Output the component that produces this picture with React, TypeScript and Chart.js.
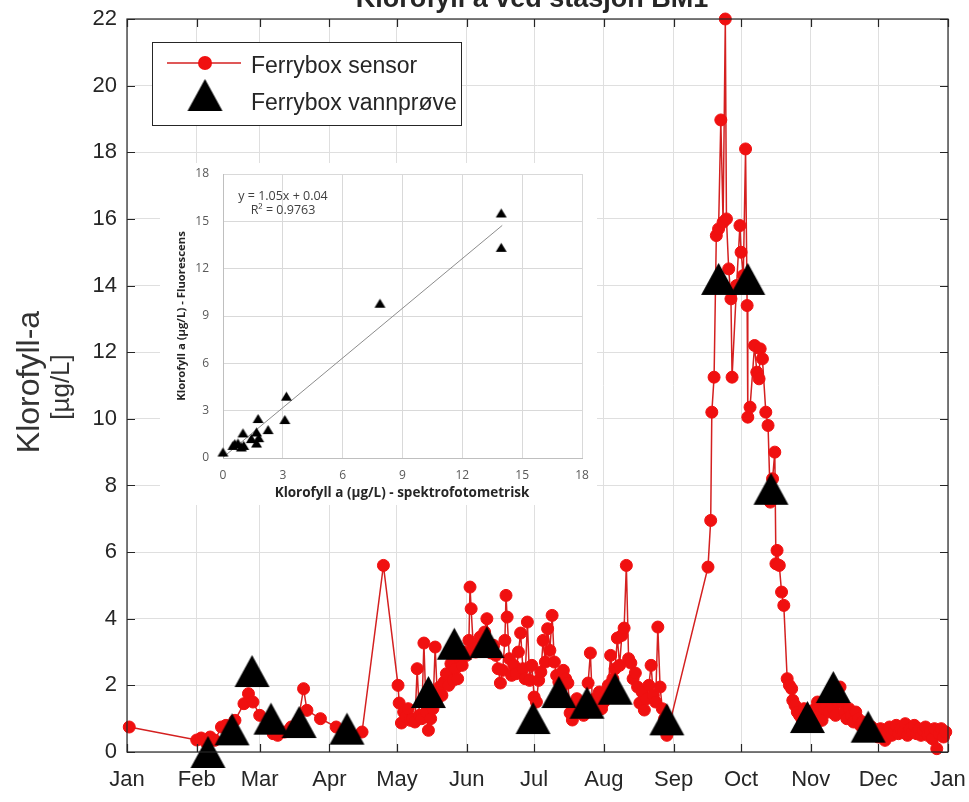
import React, { useEffect, useRef } from 'react';
import { Chart, registerables } from 'chart.js';

Chart.register(...registerables);

// ---------- data ----------
const monthStarts = [0, 31, 59, 90, 120, 151, 181, 212, 243, 273, 304, 334, 365];
const monthLabels = ['Jan', 'Feb', 'Mar', 'Apr', 'May', 'Jun', 'Jul', 'Aug', 'Sep', 'Oct', 'Nov', 'Dec', 'Jan'];
const yTickValues = [0, 2, 4, 6, 8, 10, 12, 14, 16, 18, 20, 22];

// Ferrybox sensor: [day of year, chlorophyll µg/L]
const sensorReadings: [number, number][] = [
  [1, 0.75], [31, 0.36], [33, 0.42], [35, 0.3], [37, 0.45], [39, 0.35], [42, 0.75], [44, 0.8], [48, 0.95],
  [52, 1.45], [54, 1.75], [56, 1.5], [59, 1.1], [62, 0.8], [65, 0.55], [67, 0.5], [70, 0.6], [73, 0.75],
  [76, 0.9], [78.5, 1.9], [80, 1.25], [86, 1.0], [93, 0.75], [98, 0.65], [104.5, 0.6], [114, 5.6],
  [120.5, 2.0], [121, 1.47], [122, 0.87], [123, 1.2], [124, 1.05], [125, 1.3], [126, 0.95], [127, 1.0],
  [128, 0.9], [129, 2.5], [130, 1.1], [131, 1.0], [132, 3.27], [133, 1.2], [134, 0.65], [135, 1.0],
  [136, 1.3], [137, 3.15], [138, 1.6], [139, 1.95], [140, 1.7], [141, 2.1], [142, 2.35], [143, 2.0],
  [144, 2.65], [145, 2.15], [146, 2.5], [147, 2.2], [148, 2.8], [149, 2.6], [150, 3.0], [151, 2.9],
  [152, 3.35], [152.5, 4.95], [153, 4.3], [154, 3.1], [155, 3.0], [156, 3.2], [157, 3.45], [158, 3.1],
  [159, 3.6], [160, 4.0], [161, 3.0], [162, 2.97], [163, 3.2], [164, 2.9], [165, 2.5], [166, 2.07],
  [167, 2.45], [168, 3.35], [168.5, 4.7], [169, 4.05], [170, 2.8], [171, 2.3], [172, 2.6], [173, 2.35],
  [174, 3.0], [175, 3.57], [176, 2.5], [177, 2.2], [178, 3.9], [179, 2.15], [180, 2.6], [181, 1.65],
  [182, 1.5], [183, 2.15], [184, 2.4], [185, 3.35], [186, 2.7], [187, 3.7], [188, 3.05], [189, 4.1],
  [190, 2.7], [191, 2.3], [192, 2.1], [193, 1.9], [194, 2.45], [195, 2.2], [196, 2.07], [197, 1.17],
  [198, 0.96], [199, 1.3], [200, 1.6], [201, 1.2], [202, 1.4], [203, 1.1], [204, 1.25], [205, 2.07],
  [206, 2.97], [207, 1.35], [208, 1.6], [209, 1.35], [210, 1.8], [211, 1.3], [212, 1.5], [213, 1.7],
  [214, 2.0], [215, 2.9], [216, 2.2], [217, 2.5], [218, 3.42], [219, 2.6], [220, 3.5], [221, 3.72],
  [222, 5.6], [223, 2.8], [224, 2.67], [225, 2.2], [226, 2.37], [227, 1.95], [228, 1.47], [229, 1.8],
  [230, 1.26], [231, 1.6], [232, 2.0], [233, 2.6], [234, 1.7], [235, 1.5], [236, 3.75], [237, 1.95],
  [238, 1.3], [239, 1.0], [240, 0.5],
  [258.3, 5.55], [259.5, 6.95], [260, 10.2], [261, 11.25], [262, 15.5], [263, 15.7], [264, 18.97],
  [265, 15.9], [266, 22.0], [266.5, 16.0], [267.5, 14.5], [268.5, 13.6], [269, 11.25], [271, 14.0],
  [272.5, 15.8], [273, 15.0], [274, 14.3], [275, 18.1], [275.7, 13.4], [276, 10.05], [277, 10.35],
  [279, 12.2], [280, 11.4], [281, 11.2], [281.5, 12.1], [282.5, 11.8], [284, 10.2], [285, 9.8],
  [286, 7.5], [287, 8.2], [288, 9.0], [288.5, 5.65], [289, 6.05], [290, 5.6], [291, 4.8], [292, 4.4],
  [293.5, 2.2], [294.5, 2.0], [295.5, 1.9], [296, 1.55], [297, 1.4], [298, 1.2], [299, 1.1],
  [300, 1.0], [301, 1.3], [302, 0.9], [303, 1.2], [304, 1.1], [305, 0.85], [306, 1.3], [307, 1.5],
  [308, 1.1], [309, 0.95], [310, 1.3], [311, 1.4], [312, 1.2], [313, 1.55], [314, 1.3], [315, 1.1],
  [316, 1.5], [317, 1.95], [318, 1.5], [319, 1.2], [320, 1.0], [321, 1.3], [322, 1.1], [323, 0.9],
  [324, 1.2], [325, 1.0], [326, 0.8], [327, 0.9], [328, 0.7], [329, 0.8], [330, 0.6], [331, 0.75],
  [332, 0.5], [333, 0.6], [334, 0.45], [335, 0.7], [336, 0.55], [337, 0.35], [338, 0.6], [339, 0.75],
  [340, 0.5], [341, 0.65], [342, 0.8], [343, 0.55], [344, 0.7], [345, 0.6], [346, 0.85], [347, 0.5],
  [348, 0.7], [349, 0.6], [350, 0.8], [351, 0.55], [352, 0.7], [353, 0.5], [354, 0.65], [355, 0.75],
  [356, 0.5], [357, 0.6], [358, 0.4], [359, 0.7], [360, 0.1], [361, 0.55], [362, 0.7], [363, 0.45],
  [364, 0.6],
];

// Ferrybox water samples
const sampleDays = [36, 46.7, 55.6, 64, 76.5, 97.8, 134, 145.5, 160, 180.5, 192, 204.5, 217, 240, 263, 276, 286.3, 302.5, 314, 329.5];
const sampleChl = [0.0, 0.68, 2.43, 1.0, 0.9, 0.7, 1.8, 3.25, 3.3, 1.02, 1.8, 1.48, 1.9, 0.98, 14.2, 14.2, 7.9, 1.05, 1.95, 0.76];

// Inset: spectrophotometric vs fluorescence
const insetSpektro = [0, 0.5, 0.59, 0.75, 0.92, 1.04, 1.0, 1.42, 1.68, 1.68, 1.79, 1.76, 2.26, 3.1, 3.18, 7.87, 13.95, 13.95];
const insetFluor = [0.38, 0.8, 0.91, 0.95, 0.7, 0.8, 1.59, 1.23, 1.65, 0.95, 1.29, 2.5, 1.8, 2.44, 3.92, 9.81, 15.53, 13.35];
const trendX = [0, 14];
const trendY = [0.04, 14.74];
const insetTicks = [0, 3, 6, 9, 12, 15, 18];

// ---------- helpers ----------
function makeTriangle(w: number, h: number, color: string) {
  const c = document.createElement('canvas');
  c.width = w + 2;
  c.height = h + 2;
  const ctx = c.getContext('2d')!;
  ctx.fillStyle = color;
  ctx.beginPath();
  ctx.moveTo(c.width / 2, 1);
  ctx.lineTo(w + 1, h + 1);
  ctx.lineTo(1, h + 1);
  ctx.closePath();
  ctx.fill();
  return c;
}

function zeroPadding(s: any) {
  s.paddingTop = 0;
  s.paddingBottom = 0;
  s.paddingLeft = 0;
  s.paddingRight = 0;
}

const SANS = '"Liberation Sans", Arial, Helvetica, sans-serif';
const INSET_FONT = '"Open Sans", "Liberation Sans", sans-serif';
const RED = '#f01010';
const LINE_RED = '#d42020';

export default function App() {
  const mainRef = useRef<HTMLCanvasElement>(null);
  const insetRef = useRef<HTMLCanvasElement>(null);

  useEffect(() => {
    const tri = makeTriangle(35, 32, '#000');
    const triSmall = makeTriangle(11, 9, '#000');

    const mainOverlay = {
      id: 'mainOverlay',
      afterDraw(chart: any) {
        const { ctx, chartArea } = chart;
        const { left, right, top, bottom } = chartArea;
        const xs = chart.scales.x;
        const ys = chart.scales.y;
        ctx.save();
        // frame
        ctx.strokeStyle = '#262626';
        ctx.lineWidth = 1.2;
        ctx.strokeRect(left, top, right - left, bottom - top);
        // inward ticks
        ctx.beginPath();
        monthStarts.forEach((m) => {
          const x = Math.round(xs.getPixelForValue(m)) + 0.5;
          ctx.moveTo(x, bottom);
          ctx.lineTo(x, bottom - 8);
          ctx.moveTo(x, top);
          ctx.lineTo(x, top + 8);
        });
        yTickValues.forEach((v) => {
          const y = Math.round(ys.getPixelForValue(v)) + 0.5;
          ctx.moveTo(left, y);
          ctx.lineTo(left + 8, y);
          ctx.moveTo(right, y);
          ctx.lineTo(right - 8, y);
        });
        ctx.stroke();

        // title (cut off at the top of the picture)
        ctx.fillStyle = '#262626';
        ctx.font = `bold 27px ${SANS}`;
        ctx.textAlign = 'center';
        ctx.textBaseline = 'alphabetic';
        ctx.fillText('Klorofyll a ved stasjon BM1', 532, 7);

        // y-axis title
        ctx.save();
        ctx.rotate(-Math.PI / 2);
        ctx.fillStyle = '#333333';
        ctx.textAlign = 'center';
        ctx.textBaseline = 'middle';
        ctx.font = `32px ${SANS}`;
        ctx.fillText('Klorofyll-a', -382, 30);
        ctx.font = `26px ${SANS}`;
        ctx.fillText('[µg/L]', -387, 62);
        ctx.restore();

        // legend
        ctx.fillStyle = '#ffffff';
        ctx.fillRect(152, 42, 309, 83);
        ctx.strokeStyle = '#262626';
        ctx.lineWidth = 1;
        ctx.strokeRect(152.5, 42.5, 309, 83);
        ctx.strokeStyle = LINE_RED;
        ctx.lineWidth = 1.5;
        ctx.beginPath();
        ctx.moveTo(167, 63);
        ctx.lineTo(241, 63);
        ctx.stroke();
        ctx.fillStyle = RED;
        ctx.beginPath();
        ctx.arc(205, 63, 7, 0, Math.PI * 2);
        ctx.fill();
        ctx.drawImage(tri, 205 - tri.width / 2, 95 - tri.height / 2);
        ctx.fillStyle = '#262626';
        ctx.font = `23px ${SANS}`;
        ctx.textAlign = 'left';
        ctx.textBaseline = 'alphabetic';
        ctx.fillText('Ferrybox sensor', 251, 73);
        ctx.fillText('Ferrybox vannprøve', 251, 110);
        ctx.restore();
      },
    };

    const main = new Chart(mainRef.current!, {
      type: 'scatter',
      data: {
        datasets: [
          {
            label: 'Ferrybox vannprøve',
            data: sampleDays.map((d, i) => ({ x: d, y: sampleChl[i] })),
            pointStyle: tri as any,
            pointRadius: 16,
            showLine: false,
            order: 0,
            clip: false as any,
          },
          {
            label: 'Ferrybox sensor',
            data: sensorReadings.map(([d, v]) => ({ x: d, y: v })),
            showLine: true,
            borderColor: LINE_RED,
            borderWidth: 1.5,
            pointRadius: 6,
            pointBackgroundColor: RED,
            pointBorderColor: RED,
            pointBorderWidth: 1,
            order: 1,
            clip: false as any,
          },
        ],
      },
      options: {
        responsive: false,
        animation: false,
        events: [],
        layout: { padding: { top: 19, right: 21, left: 0, bottom: 0 } },
        plugins: { legend: { display: false }, tooltip: { enabled: false }, title: { display: false } },
        scales: {
          x: {
            type: 'linear',
            min: 0,
            max: 365,
            afterBuildTicks: (s: any) => {
              s.ticks = monthStarts.map((v) => ({ value: v }));
            },
            afterFit: (s: any) => {
              s.height = 50;
              zeroPadding(s);
            },
            grid: { color: '#dfdfdf', drawTicks: false, lineWidth: 1 },
            border: { display: false },
            ticks: {
              autoSkip: false,
              maxRotation: 0,
              padding: 15,
              font: { family: SANS, size: 22 },
              color: '#262626',
              callback: (_v: any, i: number) => monthLabels[i],
            },
          },
          y: {
            type: 'linear',
            min: 0,
            max: 22,
            afterBuildTicks: (s: any) => {
              s.ticks = yTickValues.map((v) => ({ value: v }));
            },
            afterFit: (s: any) => {
              s.width = 127;
              zeroPadding(s);
            },
            grid: { color: '#dfdfdf', drawTicks: false, lineWidth: 1 },
            border: { display: false },
            ticks: {
              padding: 10,
              font: { family: SANS, size: 22 },
              color: '#262626',
              callback: (v: any) => String(v),
            },
          },
        },
      },
      plugins: [mainOverlay],
    } as any);

    const insetOverlay = {
      id: 'insetOverlay',
      beforeDraw(chart: any) {
        const { ctx, width, height } = chart;
        ctx.save();
        ctx.fillStyle = '#ffffff';
        ctx.fillRect(0, 0, width, height);
        ctx.restore();
      },
      afterDraw(chart: any) {
        const { ctx } = chart;
        ctx.save();
        ctx.fillStyle = '#404040';
        ctx.textAlign = 'center';
        ctx.textBaseline = 'middle';
        ctx.font = `12.5px ${INSET_FONT}`;
        ctx.fillText('y = 1.05x + 0.04', 123, 33);
        ctx.fillText('R² = 0.9763', 123, 47);
        ctx.fillStyle = '#262626';
        ctx.font = `bold 13.5px ${INSET_FONT}`;
        ctx.fillText('Klorofyll a (µg/L) - spektrofotometrisk', 242, 330);
        ctx.translate(22, 153);
        ctx.rotate(-Math.PI / 2);
        ctx.font = `bold 11.3px ${INSET_FONT}`;
        ctx.fillText('Klorofyll a (µg/L) - Fluorescens', 0, 0);
        ctx.restore();
      },
    };

    const inset = new Chart(insetRef.current!, {
      type: 'scatter',
      data: {
        datasets: [
          {
            data: insetSpektro.map((x, i) => ({ x, y: insetFluor[i] })),
            pointStyle: triSmall as any,
            pointRadius: 6,
            showLine: false,
            order: 0,
            clip: false as any,
          },
          {
            data: trendX.map((x, i) => ({ x, y: trendY[i] })),
            showLine: true,
            borderColor: '#8c8c8c',
            borderWidth: 1,
            pointRadius: 0,
            order: 1,
          },
        ],
      },
      options: {
        responsive: false,
        animation: false,
        events: [],
        layout: { padding: { top: 11, right: 15, left: 0, bottom: 0 } },
        plugins: { legend: { display: false }, tooltip: { enabled: false } },
        scales: {
          x: {
            type: 'linear',
            min: 0,
            max: 18,
            afterBuildTicks: (s: any) => {
              s.ticks = insetTicks.map((v) => ({ value: v }));
            },
            afterFit: (s: any) => {
              s.height = 47;
              zeroPadding(s);
            },
            grid: { color: '#d9d9d9', drawTicks: false },
            border: { color: '#bfbfbf' },
            ticks: { padding: 10, font: { family: INSET_FONT, size: 12 }, color: '#595959', maxRotation: 0, autoSkip: false },
          },
          y: {
            type: 'linear',
            min: 0,
            max: 18,
            afterBuildTicks: (s: any) => {
              s.ticks = insetTicks.map((v) => ({ value: v }));
            },
            afterFit: (s: any) => {
              s.width = 63;
              zeroPadding(s);
            },
            grid: { color: '#d9d9d9', drawTicks: false },
            border: { color: '#bfbfbf' },
            ticks: { padding: 14, font: { family: INSET_FONT, size: 12 }, color: '#595959' },
          },
        },
      },
      plugins: [insetOverlay],
    } as any);

    return () => {
      main.destroy();
      inset.destroy();
    };
  }, []);

  return (
    <div style={{ position: 'absolute', left: 0, top: 0, width: 969, height: 802, background: '#fff' }}>
      <canvas ref={mainRef} width={969} height={802} style={{ position: 'absolute', left: 0, top: 0, width: 969, height: 802 }} />
      <canvas ref={insetRef} width={437} height={342} style={{ position: 'absolute', left: 160, top: 163, width: 437, height: 342 }} />
    </div>
  );
}
